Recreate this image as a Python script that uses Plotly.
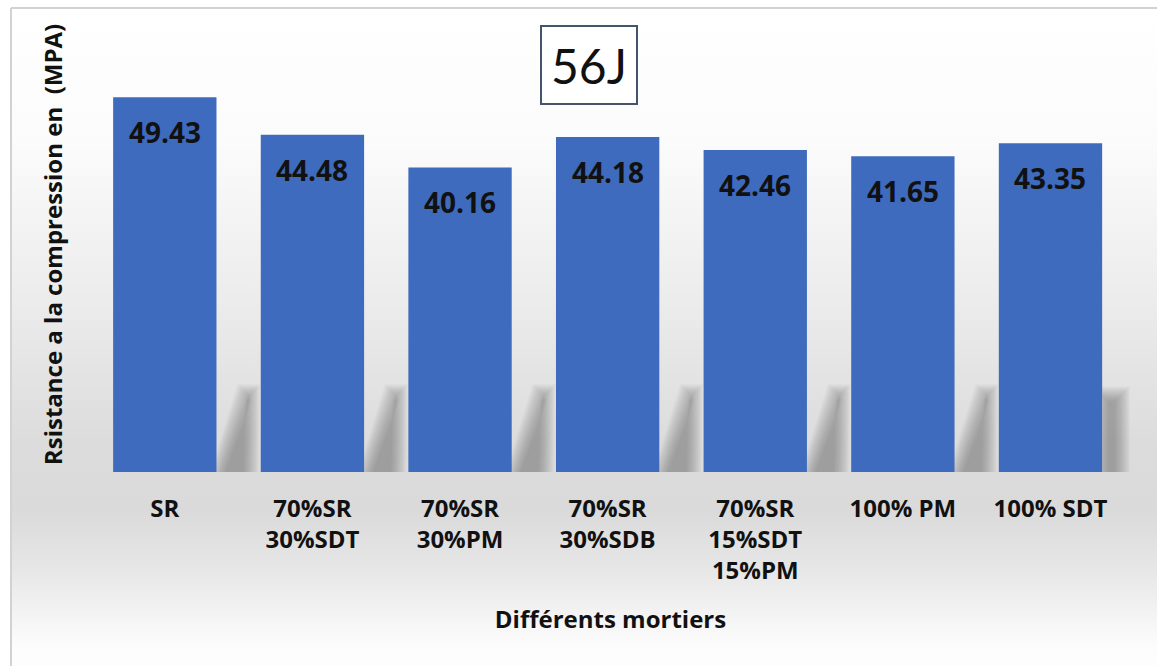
import base64
import plotly.graph_objects as go

# Mortar mixes and their 56-day compressive strength (MPa)
categories = [
    "SR",
    "70%SR<br>30%SDT",
    "70%SR<br>30%PM",
    "70%SR<br>30%SDB",
    "70%SR<br>15%SDT<br>15%PM",
    "100% PM",
    "100% SDT",
]
strength = [49.43, 44.48, 40.16, 44.18, 42.46, 41.65, 43.35]

chart_title = "56J"
x_title = "Différents mortiers"
y_title = "Rsistance a la compression en  (MPA)"

W, H = 1157, 666
M_L, M_R, M_T, M_B = 91, 27, 17, 194
PW, PH = W - M_L - M_R, H - M_T - M_B
BAR_W = 0.70
Y_MAX = 60

BAR_COLOR = "#3e6bbd"
FONT = "Open Sans"

n = len(strength)
PX_PER_CAT = PW / n
PX_PER_UNIT = PH / Y_MAX


def px_to_paper_x(px):
    return (px - M_L) / PW


def px_to_paper_y(py):
    return 1 - (py - M_T) / PH


# soft grey backdrop (white -> light grey -> white), drawn as an SVG image
BG_W, BG_H = W - 12 + 20, H - 9 + 20
svg = f"""<svg xmlns='http://www.w3.org/2000/svg' width='{BG_W}' height='{BG_H}' viewBox='0 0 {BG_W} {BG_H}' preserveAspectRatio='none'>
<defs><linearGradient id='g' x1='0' y1='0' x2='0' y2='1'>
<stop offset='0' stop-color='#ffffff'/>
<stop offset='0.20' stop-color='#fbfbfb'/>
<stop offset='0.43' stop-color='#ececec'/>
<stop offset='0.64' stop-color='#dcdcdc'/>
<stop offset='0.74' stop-color='#dadada'/>
<stop offset='0.83' stop-color='#e7e7e7'/>
<stop offset='0.94' stop-color='#fcfcfc'/>
<stop offset='1' stop-color='#ffffff'/>
</linearGradient></defs>
<rect x='0' y='0' width='{BG_W}' height='{BG_H}' fill='url(#g)'/>
</svg>"""
bg_src = "data:image/svg+xml;base64," + base64.b64encode(svg.encode()).decode()

fig = go.Figure()

fig.add_trace(go.Bar(
    x=categories,
    y=strength,
    width=BAR_W,
    marker=dict(color=BAR_COLOR, line=dict(width=0)),
    hoverinfo="x+y",
    showlegend=False,
))

# value labels inside the top of each bar
annotations = []
for cat, v in zip(categories, strength):
    annotations.append(dict(
        x=cat, y=v, xref="x", yref="y",
        text=f"{v:.2f}", showarrow=False,
        yanchor="middle", yshift=-35,
        font=dict(family=FONT, size=28, color="#111111", weight="bold"),
    ))

# boxed chart title
annotations.append(dict(
    x=px_to_paper_x(588.5), y=px_to_paper_y(65), xref="paper", yref="paper",
    text=chart_title, showarrow=False,
    xanchor="center", yanchor="middle",
    width=78, height=60, borderpad=8,
    bgcolor="#ffffff", bordercolor="#44546a", borderwidth=2,
    font=dict(family="Lato", size=48, color="#111111"),
))

# soft floor shadows behind the bars; many faint stacked layers give a blurred edge
shapes = []
half = BAR_W / 2
sx = 1 / PX_PER_CAT      # one pixel in category units
sy = 1 / PX_PER_UNIT     # one pixel in value units
shadow_top = 10.4
layers = list(range(9, -7, -1))
for i in range(n - 1):
    r = i + half
    for e in layers:
        bl = r + (3 - e) * sx
        tl = r + (30 - e) * sx
        tr = r + (35 + e) * sx
        br = r + (33 + e) * sx
        top = shadow_top + e * sy
        shapes.append(dict(
            type="path", xref="x", yref="y", layer="below",
            path=(f"M {bl:.4f},0 L {tl:.4f},{top:.3f} "
                  f"L {tr:.4f},{top:.3f} L {br:.4f},0 Z"),
            fillcolor="#666666", opacity=0.04, line=dict(width=0),
        ))
# shadow band on the right of the last bar
r_last = n - 1 + half
for e in layers:
    shapes.append(dict(
        type="rect", xref="x", yref="y", layer="below",
        x0=r_last + max(-e, 0) * sx, x1=r_last + (19 + e) * sx,
        y0=0, y1=shadow_top - 0.3 + e * sy,
        fillcolor="#666666", opacity=0.04, line=dict(width=0),
    ))

# outer frame of the chart (left and top edges)
frame = dict(color="#d2d2d2", width=2)
shapes.append(dict(
    type="line", xref="paper", yref="paper", layer="above",
    x0=px_to_paper_x(11), x1=px_to_paper_x(11),
    y0=px_to_paper_y(H + 20), y1=px_to_paper_y(8), line=frame,
))
shapes.append(dict(
    type="line", xref="paper", yref="paper", layer="above",
    x0=px_to_paper_x(11), x1=px_to_paper_x(W + 20),
    y0=px_to_paper_y(8), y1=px_to_paper_y(8), line=frame,
))

fig.update_layout(
    width=W, height=H,
    margin=dict(l=M_L, r=M_R, t=M_T, b=M_B, autoexpand=False),
    paper_bgcolor="#ffffff",
    plot_bgcolor="rgba(0,0,0,0)",
    font=dict(family=FONT, color="#111111"),
    bargap=1 - BAR_W,
    images=[dict(
        source=bg_src, xref="paper", yref="paper",
        x=px_to_paper_x(12), y=px_to_paper_y(9),
        sizex=BG_W / PW, sizey=BG_H / PH,
        sizing="stretch", xanchor="left", yanchor="top",
        layer="below", opacity=1,
    )],
    annotations=annotations,
    shapes=shapes,
    xaxis=dict(
        type="category",
        showline=False, showgrid=False, zeroline=False, ticks="",
        tickfont=dict(family=FONT, size=24, color="#111111", weight="bold"),
        ticklabelstandoff=20,
        title=dict(text=x_title, standoff=25,
                   font=dict(family=FONT, size=24, color="#111111", weight="bold")),
        automargin=False,
    ),
    yaxis=dict(
        range=[0, Y_MAX],
        showline=False, showgrid=False, zeroline=False,
        showticklabels=False, ticks="",
        title=dict(text=y_title, standoff=20,
                   font=dict(family=FONT, size=24, color="#111111", weight="bold")),
        automargin=False,
    ),
)

fig.write_html("out.html")
